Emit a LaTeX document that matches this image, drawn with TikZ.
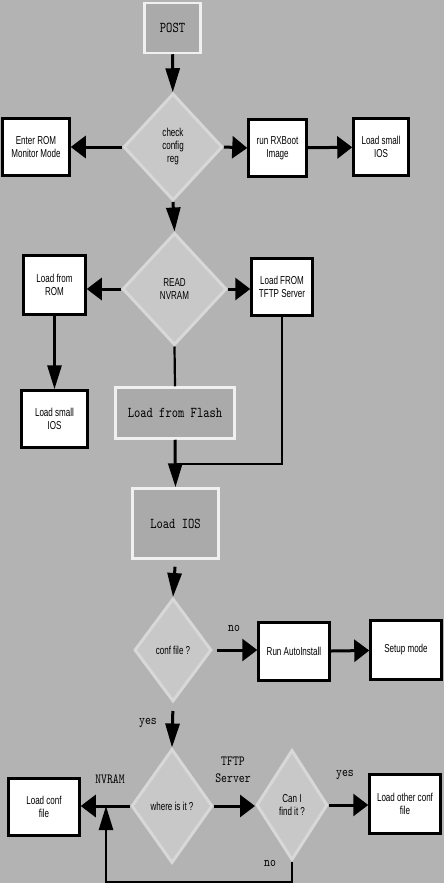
\documentclass[tikz,border=0pt]{standalone}
\usepackage{fontspec}
\newfontfamily\flowsans[FakeStretch=0.7]{Liberation Sans}
\newfontfamily\flowmono[FakeStretch=0.8]{lmmono10-regular.otf}
\usetikzlibrary{shapes.geometric, arrows.meta}

\definecolor{bggray}{HTML}{B3B3B3}
\definecolor{boxgray}{HTML}{AAAAAA}
\definecolor{boxedge}{HTML}{F0F0F0}
\definecolor{decgray}{HTML}{C8C8C8}
\definecolor{decedge}{HTML}{D8D8D8}

\begin{document}
\begin{tikzpicture}[x=1pt, y=-1pt,
    wbox/.style={draw=black, fill=white, line width=2.5pt, align=center,
      inner sep=1pt, font=\flowsans\fontsize{11.5}{13}\selectfont},
    gbox/.style={draw=boxedge, fill=boxgray, line width=2.5pt,
      font=\flowmono\fontsize{15}{17}\selectfont},
    decision/.style={diamond, draw=decedge, fill=decgray, line width=3pt,
      align=center, inner sep=0pt, font=\flowsans\fontsize{11.5}{13}\selectfont},
    lbl/.style={align=center, inner sep=0pt, font=\flowmono\fontsize{14}{17}\selectfont},
    vflow/.style={line width=3pt, -{Triangle[length=24pt, width=14pt]}},
    hflow/.style={line width=3pt, -{Triangle[length=15pt, width=22pt]}},
    feedline/.style={line width=2.2pt}]

    % Background and page size
    \useasboundingbox (0,0) rectangle (444,883);
    \fill[bggray] (0,0) rectangle (444,883);

    % Boot sequence
    \node[gbox, minimum width=56pt, minimum height=50pt] (post) at (172.5,28) {POST};
    \node[decision, minimum width=99pt, minimum height=107pt] (check) at (173,147) {check\\config\\reg};
    \node[wbox, minimum width=67pt, minimum height=57pt] (rommon) at (36,147) {Enter ROM\\Monitor Mode};
    \node[wbox, minimum width=58pt, minimum height=57pt] (rxboot) at (277.5,148) {run RXBoot\\Image};
    \node[wbox, minimum width=55pt, minimum height=57pt] (smallios) at (381,147) {Load small\\IOS};

    % Where to load IOS from
    \node[decision, minimum width=104pt, minimum height=112pt] (nvram) at (174.5,289) {READ\\NVRAM};
    \node[wbox, minimum width=62pt, minimum height=59pt] (fromrom) at (54.5,285) {Load from\\ROM};
    \node[wbox, minimum width=61pt, minimum height=57pt] (fromtftp) at (282,287) {Load FROM\\TFTP Server};
    \node[wbox, minimum width=66pt, minimum height=57pt] (romios) at (54.5,419) {Load small\\IOS};
    \node[gbox, minimum width=119pt, minimum height=51pt] (flash) at (175,413) {Load from Flash};
    \node[gbox, minimum width=86pt, minimum height=70pt] (ios) at (175.5,523.5) {Load IOS};
    \coordinate (merge) at (175,464);

    % Configuration file
    \node[decision, minimum width=77pt, minimum height=103pt] (conf) at (173,650) {conf file ?};
    \node[wbox, minimum width=71pt, minimum height=58pt] (autoinst) at (294,651.5) {Run AutoInstall};
    \node[wbox, minimum width=71pt, minimum height=59pt] (setup) at (406,650) {Setup mode};
    \node[decision, minimum width=81pt, minimum height=114pt] (where) at (172,806) {where is it ?};
    \node[wbox, minimum width=71pt, minimum height=57pt] (loadconf) at (44,807) {Load conf\\file};
    \node[decision, minimum width=71pt, minimum height=110pt] (find) at (292,805) {Can I\\find it ?};
    \node[wbox, minimum width=71pt, minimum height=59pt] (otherconf) at (405,804) {Load other conf\\file};
    \coordinate (loopend) at (106,806);

    % Labels
    \node[lbl] (lblno) at (234,628) {no};
    \node[lbl] (lblyes) at (148,723) {yes};
    \node[lbl] (lblnvram) at (110,779) {NVRAM};
    \node[lbl] (lbltftp) at (233,770) {TFTP\\Server};
    \node[lbl] (lblfound) at (345,775) {yes};
    \node[lbl] (lblnotfound) at (270,863) {no};

    % Connectors
    \draw[vflow] (post) -- (check);
    \draw[hflow] (check.west) -- (rommon.east);
    \draw[hflow] (check.east) -- (rxboot.west);
    \draw[hflow] (rxboot) -- (smallios);
    \draw[vflow] (check.south) -- (nvram.north);
    \draw[hflow] (nvram.west) -- (fromrom.east |- nvram.west);
    \draw[hflow] (nvram.east) -- (fromtftp.west |- nvram.east);
    \draw[vflow] (fromrom) -- (romios);
    \draw[feedline] (nvram.south) -- (flash.north);
    \draw[feedline] (fromtftp.south) |- (merge);
    \draw[vflow] (flash.south) -- (ios.north);
    \draw[vflow, shorten <=7pt] (ios.south) -- (conf.north);
    \draw[hflow, shorten <=4pt] (conf.east) -- (autoinst.west |- conf.east);
    \draw[hflow] (autoinst) -- (setup);
    \draw[vflow, shorten <=8pt] (conf.south) -- (where.north);
    \draw[hflow] (where.west) -- (loadconf.east |- where.west);
    \draw[hflow] (where.east) -- (find.west |- where.east);
    \draw[hflow] (find.east) -- (otherconf.west |- find.east);
    \draw[vflow, line width=2.5pt] (find.south) -- ++(0,21) -| (loopend);

\end{tikzpicture}
\end{document}
